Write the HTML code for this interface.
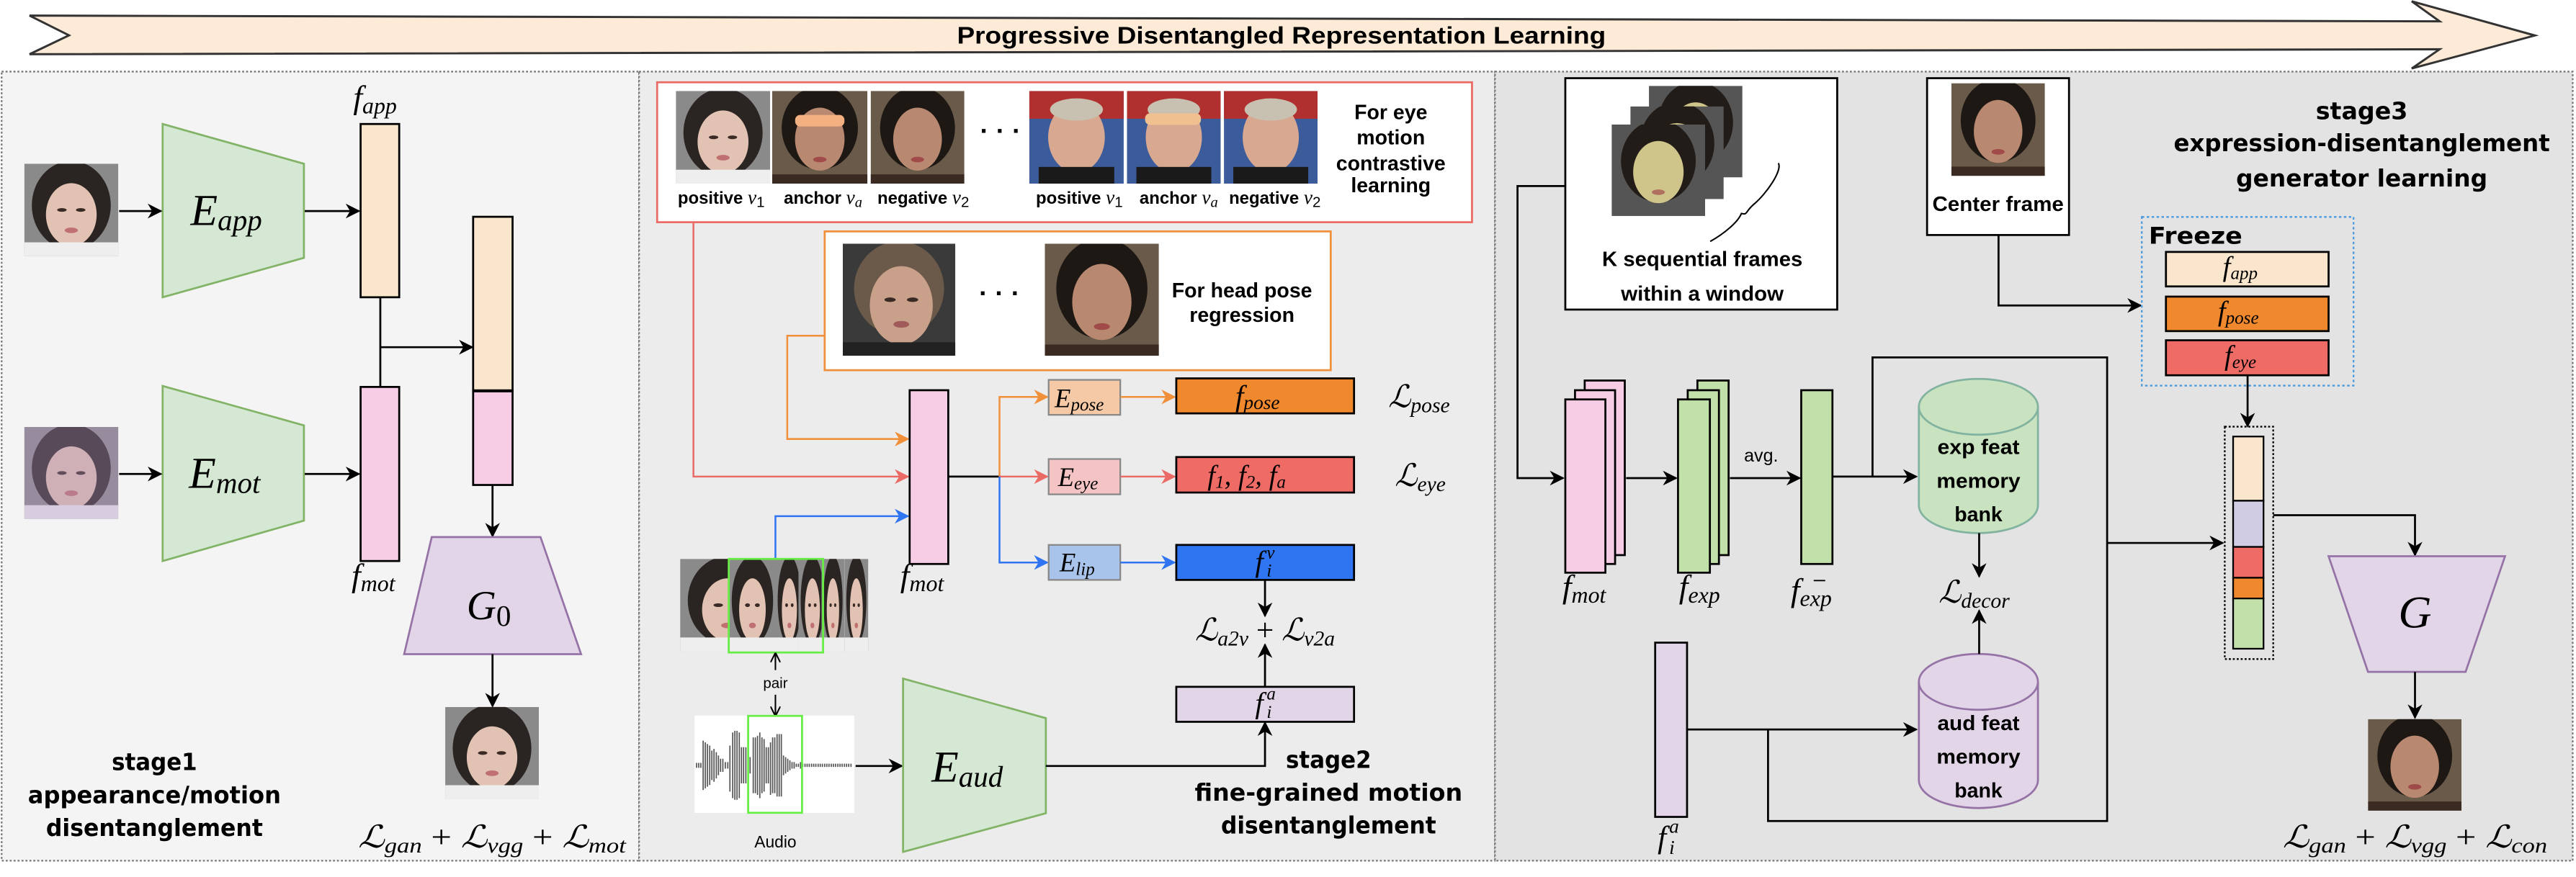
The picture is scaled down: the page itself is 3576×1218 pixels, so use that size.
<!DOCTYPE html>
<html><head><meta charset="utf-8"><style>
html,body{margin:0;padding:0;background:#fff;}
svg{display:block;}
.m{font-family:"Liberation Serif",serif;font-style:italic;fill:#000;}
.b{font-family:"Liberation Sans",sans-serif;font-weight:bold;fill:#000;}
.s{font-family:"DejaVu Sans",sans-serif;font-weight:bold;fill:#000;}
</style></head><body>
<svg width="3576" height="1218" viewBox="0 0 1568 534" preserveAspectRatio="none" xmlns="http://www.w3.org/2000/svg">
<defs>
<marker id="ak" viewBox="0 0 10 10" refX="9" refY="5" markerWidth="9" markerHeight="9" markerUnits="userSpaceOnUse" orient="auto"><path d="M0,0 L10,5 L0,10 L3,5 z" fill="#000"/></marker>
<marker id="ao" viewBox="0 0 10 10" refX="9" refY="5" markerWidth="9" markerHeight="9" markerUnits="userSpaceOnUse" orient="auto"><path d="M0,0 L10,5 L0,10 L3,5 z" fill="#f0903a"/></marker>
<marker id="ar" viewBox="0 0 10 10" refX="9" refY="5" markerWidth="9" markerHeight="9" markerUnits="userSpaceOnUse" orient="auto"><path d="M0,0 L10,5 L0,10 L3,5 z" fill="#ea6b66"/></marker>
<marker id="ab" viewBox="0 0 10 10" refX="9" refY="5" markerWidth="9" markerHeight="9" markerUnits="userSpaceOnUse" orient="auto"><path d="M0,0 L10,5 L0,10 L3,5 z" fill="#2f74f0"/></marker>
<marker id="as" viewBox="0 0 10 10" refX="9" refY="5" markerWidth="6" markerHeight="6" markerUnits="userSpaceOnUse" orient="auto"><path d="M0,0 L10,5 L0,10 M10,5 L0,5" fill="none" stroke="#000" stroke-width="1.5"/></marker>
<symbol id="face" viewBox="0 0 100 100" preserveAspectRatio="none">
<rect width="100" height="100" fill="#8a8a8a"/>
<ellipse cx="50" cy="45" rx="42" ry="48" fill="#2a2522"/>
<ellipse cx="50" cy="55" rx="27" ry="34" fill="#e2c2b2"/>
<rect x="0" y="85" width="100" height="15" fill="#eeeeee"/>
<ellipse cx="40" cy="50" rx="5" ry="2" fill="#3a2a25"/><ellipse cx="60" cy="50" rx="5" ry="2" fill="#3a2a25"/>
<ellipse cx="50" cy="72" rx="7" ry="3" fill="#c07070"/>
</symbol>
<symbol id="face2" viewBox="0 0 100 100" preserveAspectRatio="none">
<rect width="100" height="100" fill="#3a3a3a"/>
<ellipse cx="50" cy="40" rx="40" ry="42" fill="#6b5a4a"/>
<ellipse cx="52" cy="55" rx="28" ry="35" fill="#c9a08a"/>
<rect x="0" y="88" width="100" height="12" fill="#222"/>
<ellipse cx="42" cy="50" rx="5" ry="2" fill="#3a2a25"/><ellipse cx="62" cy="50" rx="5" ry="2" fill="#3a2a25"/>
<ellipse cx="52" cy="72" rx="7" ry="3" fill="#a05a5a"/>
</symbol>
<symbol id="face3" viewBox="0 0 100 100" preserveAspectRatio="none">
<rect width="100" height="100" fill="#3b5b9a"/>
<rect x="0" y="0" width="100" height="30" fill="#b03030"/>
<ellipse cx="50" cy="50" rx="30" ry="38" fill="#d8a890"/>
<rect x="10" y="82" width="80" height="18" fill="#1a1a1a"/>
<ellipse cx="50" cy="20" rx="28" ry="12" fill="#c8c0b0"/>
</symbol>
<symbol id="face4" viewBox="0 0 100 100" preserveAspectRatio="none">
<rect width="100" height="100" fill="#6a5a4a"/>
<ellipse cx="50" cy="40" rx="40" ry="45" fill="#1e1814"/>
<ellipse cx="50" cy="52" rx="26" ry="34" fill="#b88870"/>
<rect x="0" y="90" width="100" height="10" fill="#3a2a22"/>
<ellipse cx="50" cy="74" rx="7" ry="3" fill="#a04a4a"/>
</symbol>
<symbol id="face5" viewBox="0 0 100 100" preserveAspectRatio="none">
<rect width="100" height="100" fill="#555"/>
<ellipse cx="50" cy="40" rx="40" ry="45" fill="#221c18"/>
<ellipse cx="50" cy="52" rx="27" ry="34" fill="#cfc48a"/>
<ellipse cx="50" cy="74" rx="7" ry="3" fill="#b07060"/>
</symbol>
</defs>

<!-- banner -->
<polygon points="18,9.5 1485,13 1468,0.8 1543,21.6 1468,41.7 1485,30 18,33 42,21.5" fill="#fdebd7" stroke="#333" stroke-width="1.3"/>
<text x="780" y="26.5" class="b" font-size="14.5" text-anchor="middle" textLength="395" lengthAdjust="spacingAndGlyphs">Progressive Disentangled Representation Learning</text>

<!-- panels -->
<rect x="1" y="43.6" width="388" height="480.5" fill="#f4f4f4" stroke="#777" stroke-width="1" stroke-dasharray="1.2,1.2"/>
<rect x="389" y="43.6" width="521" height="480.5" fill="#ececec" stroke="#777" stroke-width="1" stroke-dasharray="1.2,1.2"/>
<rect x="910" y="43.6" width="656" height="480.5" fill="#e3e3e3" stroke="#777" stroke-width="1" stroke-dasharray="1.2,1.2"/>

<!-- ===== Panel 1 ===== -->
<use href="#face" x="14.8" y="99.7" width="57.2" height="56.3"/>
<use href="#face" x="14.8" y="260" width="57.2" height="56"/>
<rect x="14.8" y="260" width="57.2" height="56" fill="#b090c0" opacity="0.35"/>
<polygon points="99,75.5 185,99.7 185,157 99,181" fill="#d5e8d4" stroke="#82b366" stroke-width="1.2"/>
<polygon points="99,235 185,259 185,317 99,341.6" fill="#d5e8d4" stroke="#82b366" stroke-width="1.2"/>
<text x="116" y="137" class="m" font-size="27">E<tspan font-size="18" dy="3">app</tspan></text>
<text x="115" y="297" class="m" font-size="27">E<tspan font-size="18" dy="3">mot</tspan></text>
<line x1="72.5" y1="128.5" x2="98" y2="128.5" stroke="#000" stroke-width="1.2" marker-end="url(#ak)"/>
<line x1="72.5" y1="288.6" x2="98" y2="288.6" stroke="#000" stroke-width="1.2" marker-end="url(#ak)"/>
<line x1="185.5" y1="128.5" x2="218.5" y2="128.5" stroke="#000" stroke-width="1.2" marker-end="url(#ak)"/>
<line x1="185.5" y1="288.6" x2="218.5" y2="288.6" stroke="#000" stroke-width="1.2" marker-end="url(#ak)"/>
<rect x="219.5" y="75.5" width="23.5" height="105.5" fill="#fae6cc" stroke="#000" stroke-width="1.2"/>
<rect x="219.5" y="235.6" width="23.5" height="106" fill="#f6cde5" stroke="#000" stroke-width="1.2"/>
<text x="215" y="66" class="m" font-size="20">f<tspan font-size="14" dy="3">app</tspan></text>
<text x="214" y="357" class="m" font-size="20">f<tspan font-size="14" dy="3">mot</tspan></text>
<line x1="231.5" y1="181" x2="231.5" y2="235.6" stroke="#000" stroke-width="1.2"/>
<line x1="231.5" y1="211.4" x2="287.5" y2="211.4" stroke="#000" stroke-width="1.2" marker-end="url(#ak)"/>
<rect x="288" y="132" width="24" height="106" fill="#fae6cc" stroke="#000" stroke-width="1.2"/>
<rect x="288" y="238" width="24" height="57.3" fill="#f6cde5" stroke="#000" stroke-width="1.2"/>
<line x1="288" y1="238" x2="312" y2="238" stroke="#000" stroke-width="1.8"/>
<line x1="299.8" y1="295.3" x2="299.8" y2="326.5" stroke="#000" stroke-width="1.2" marker-end="url(#ak)"/>
<polygon points="262.8,327 329,327 353.7,398.3 246,398.3" fill="#e1d5e7" stroke="#9673a6" stroke-width="1.2"/>
<text x="284" y="377" class="m" font-size="25">G<tspan font-size="18" font-style="normal" dy="4">0</tspan></text>
<line x1="299.8" y1="398.3" x2="299.8" y2="430" stroke="#000" stroke-width="1.2" marker-end="url(#ak)"/>
<use href="#face" x="271" y="430.5" width="57" height="56"/>
<text x="94" y="469" class="s" font-size="14.5" text-anchor="middle" textLength="52" lengthAdjust="spacingAndGlyphs">stage1</text>
<text x="94" y="489" class="s" font-size="14.5" text-anchor="middle" textLength="154" lengthAdjust="spacingAndGlyphs">appearance/motion</text>
<text x="94" y="509" class="s" font-size="14.5" text-anchor="middle" textLength="132" lengthAdjust="spacingAndGlyphs">disentanglement</text>
<text x="218" y="516" class="m" font-size="19" textLength="163" lengthAdjust="spacingAndGlyphs">ℒ<tspan font-size="13" dy="3">gan</tspan><tspan dy="-3" font-style="normal"> + </tspan>ℒ<tspan font-size="13" dy="3">vgg</tspan><tspan dy="-3" font-style="normal"> + </tspan>ℒ<tspan font-size="13" dy="3">mot</tspan></text>

<!-- ===== Panel 2 ===== -->
<rect x="400" y="50.1" width="496" height="85.2" fill="#fff" stroke="#ea6b66" stroke-width="1.2"/>
<use href="#face" x="411.4" y="55.4" width="57.4" height="56.4"/>
<use href="#face4" x="470" y="55.4" width="58" height="56.4"/>
<rect x="484" y="70" width="30" height="7" rx="3" fill="#f4b080"/>
<use href="#face4" x="530" y="55.4" width="57" height="56.4"/>
<text x="609" y="85" font-family="Liberation Sans" font-size="16" font-weight="bold" text-anchor="middle">· · ·</text>
<use href="#face3" x="626.5" y="55.4" width="57.5" height="56.4"/>
<use href="#face3" x="686" y="55.4" width="57" height="56.4"/>
<rect x="697" y="69" width="34" height="7" rx="3" fill="#f0c090"/>
<use href="#face3" x="745" y="55.4" width="57" height="56.4"/>
<g class="b" font-size="10.5" text-anchor="middle">
<text x="439" y="124">positive <tspan class="m" font-weight="normal" font-size="12">v</tspan><tspan font-weight="normal" font-size="9" dy="2">1</tspan></text>
<text x="501" y="124">anchor <tspan class="m" font-weight="normal" font-size="12">v</tspan><tspan class="m" font-weight="normal" font-size="9" dy="2">a</tspan></text>
<text x="562" y="124">negative <tspan class="m" font-weight="normal" font-size="12">v</tspan><tspan font-weight="normal" font-size="9" dy="2">2</tspan></text>
<text x="657" y="124">positive <tspan class="m" font-weight="normal" font-size="12">v</tspan><tspan font-weight="normal" font-size="9" dy="2">1</tspan></text>
<text x="717.5" y="124">anchor <tspan class="m" font-weight="normal" font-size="12">v</tspan><tspan class="m" font-weight="normal" font-size="9" dy="2">a</tspan></text>
<text x="776" y="124">negative <tspan class="m" font-weight="normal" font-size="12">v</tspan><tspan font-weight="normal" font-size="9" dy="2">2</tspan></text>
</g>
<g class="b" font-size="12.5" text-anchor="middle">
<text x="846.6" y="72.5">For eye</text>
<text x="846.6" y="88">motion</text>
<text x="846.6" y="103.7">contrastive</text>
<text x="846.6" y="117.1">learning</text>
</g>
<rect x="502" y="140.9" width="308" height="84.5" fill="#fff" stroke="#f0903a" stroke-width="1.2"/>
<use href="#face2" x="513" y="148.4" width="68.5" height="68.2"/>
<use href="#face4" x="636" y="148.4" width="69.4" height="68.2"/>
<text x="608.4" y="184" font-family="Liberation Sans" font-size="16" font-weight="bold" text-anchor="middle">· · ·</text>
<text x="756" y="181" class="b" font-size="12.5" text-anchor="middle">For head pose</text>
<text x="756" y="196" class="b" font-size="12.5" text-anchor="middle">regression</text>
<polyline points="502,204.4 479.2,204.4 479.2,267.3 552.7,267.3" fill="none" stroke="#f0903a" stroke-width="1.1" marker-end="url(#ao)"/>
<polyline points="422.1,135.3 422.1,290.2 552.7,290.2" fill="none" stroke="#ea6b66" stroke-width="1.1" marker-end="url(#ar)"/>
<polyline points="472,340.3 472,314.3 552.7,314.3" fill="none" stroke="#2f74f0" stroke-width="1.1" marker-end="url(#ab)"/>
<rect x="553.7" y="237.6" width="23.5" height="105.8" fill="#f6cde5" stroke="#000" stroke-width="1.2"/>
<text x="548" y="357" class="m" font-size="20">f<tspan font-size="14" dy="3">mot</tspan></text>
<line x1="577.2" y1="290.2" x2="608.4" y2="290.2" stroke="#000" stroke-width="1.2"/>
<polyline points="608.4,290.2 608.4,241.7 637.5,241.7" fill="none" stroke="#f0903a" stroke-width="1.1" marker-end="url(#ao)"/>
<line x1="608.4" y1="290.2" x2="637.5" y2="290.2" stroke="#ea6b66" stroke-width="1.1" marker-end="url(#ar)"/>
<polyline points="608.4,290.2 608.4,342.5 637.5,342.5" fill="none" stroke="#2f74f0" stroke-width="1.1" marker-end="url(#ab)"/>
<rect x="638.3" y="231.3" width="43.6" height="21.3" fill="#f5c9a6" stroke="#888" stroke-width="1"/>
<rect x="638.3" y="279.5" width="43.6" height="21.5" fill="#f4c4c4" stroke="#888" stroke-width="1"/>
<rect x="638.3" y="331.8" width="43.6" height="21.3" fill="#a9c4eb" stroke="#888" stroke-width="1"/>
<text x="642" y="248" class="m" font-size="16">E<tspan font-size="11" dy="2">pose</tspan></text>
<text x="644" y="296" class="m" font-size="16">E<tspan font-size="11" dy="2">eye</tspan></text>
<text x="645" y="348" class="m" font-size="16">E<tspan font-size="11" dy="2">lip</tspan></text>
<line x1="682" y1="241.7" x2="715" y2="241.7" stroke="#f0903a" stroke-width="1.1" marker-end="url(#ao)"/>
<line x1="682" y1="290.2" x2="715" y2="290.2" stroke="#ea6b66" stroke-width="1.1" marker-end="url(#ar)"/>
<line x1="682" y1="342.5" x2="715" y2="342.5" stroke="#2f74f0" stroke-width="1.1" marker-end="url(#ab)"/>
<rect x="716" y="230.4" width="108.2" height="21.3" fill="#f0892e" stroke="#000" stroke-width="1.2"/>
<rect x="716" y="278.3" width="108.2" height="21.6" fill="#ee6b66" stroke="#000" stroke-width="1.2"/>
<rect x="716" y="331.8" width="108.2" height="21.3" fill="#2f74f0" stroke="#000" stroke-width="1.2"/>
<rect x="716" y="418.2" width="108.2" height="21.3" fill="#e1d5e7" stroke="#000" stroke-width="1.2"/>
<text x="752" y="247" class="m" font-size="18">f<tspan font-size="12" dy="2">pose</tspan></text>
<text x="735" y="295" class="m" font-size="17">f<tspan font-size="11" dy="2">1</tspan><tspan dy="-2">, f</tspan><tspan font-size="11" dy="2">2</tspan><tspan dy="-2">, f</tspan><tspan font-size="11" dy="2">a</tspan></text>
<text x="764" y="348" class="m" font-size="18">f</text><text x="771" y="351" class="m" font-size="11">i</text><text x="771" y="340" class="m" font-size="11">v</text>
<text x="764" y="434" class="m" font-size="18">f</text><text x="771" y="437" class="m" font-size="11">i</text><text x="771" y="426" class="m" font-size="11">a</text>
<text x="845" y="248" class="m" font-size="19">ℒ<tspan font-size="13" dy="3">pose</tspan></text>
<text x="849" y="296" class="m" font-size="19">ℒ<tspan font-size="13" dy="3">eye</tspan></text>
<line x1="770" y1="353.1" x2="770" y2="375" stroke="#000" stroke-width="1.2" marker-end="url(#ak)"/>
<line x1="770" y1="418.2" x2="770" y2="392.5" stroke="#000" stroke-width="1.2" marker-end="url(#ak)"/>
<text x="770" y="390" class="m" font-size="19" text-anchor="middle">ℒ<tspan font-size="13" dy="3">a2v</tspan><tspan dy="-3" font-style="normal"> + </tspan>ℒ<tspan font-size="13" dy="3">v2a</tspan></text>
<!-- frames -->
<use href="#face" x="414" y="340.3" width="58" height="56.3"/>
<use href="#face" x="443" y="340.3" width="30" height="56.3"/>
<use href="#face" x="472" y="340.3" width="17" height="56.3"/>
<use href="#face" x="486" y="340.3" width="17" height="56.3"/>
<use href="#face" x="500" y="340.3" width="14" height="56.3"/>
<use href="#face" x="514" y="340.3" width="14.5" height="56.3"/>
<rect x="443.6" y="340.3" width="57.4" height="57" fill="none" stroke="#66ee44" stroke-width="1.2"/>
<line x1="472" y1="408" x2="472" y2="398" stroke="#000" stroke-width="0.9" marker-end="url(#as)"/>
<text x="472" y="419" font-family="Liberation Sans" font-size="9" text-anchor="middle">pair</text>
<line x1="472" y1="423" x2="472" y2="435.5" stroke="#000" stroke-width="0.9" marker-end="url(#as)"/>
<rect x="422.8" y="435.7" width="97.2" height="59.3" fill="#fff"/>
<path stroke="#555" stroke-width="0.75" d="
M424,464.5V467.5 M425.3,464.5V467.5 M426.6,464.5V467.5
M428,451V481 M429.3,452V480 M430.6,453V479 M432,454V478 M433.3,457V475 M434.6,456V476 M436,458V474 M437.3,460V472 M438.6,462V470 M440,462V470
M441.5,464V468 M443,464V468 M444.3,454V482
M446,446V486 M447.3,445V487 M448.6,445V487 M450,446V486 M451.3,455V477 M452.6,455V477 M454,455V477 M455.3,459V473 M456.6,461V471
M458.5,449V483 M459.8,449V483 M461.1,448V484 M462.5,446V486 M463.8,449V483 M465.1,450V482 M466.4,455V477 M467.7,455V477 M469,452V484
M470.3,449V483 M471.6,449V483 M473,447V485 M474.3,447V485 M475.6,447V485
M476.9,460V472 M478.2,461V471 M479.5,462V470 M480.8,463V469 M482.1,464V468 M483.4,464V468 M484.7,465V467 M486,465V467 M487.3,464V468 M488.6,465V467 M490,465V467 M491.3,465V467 M492.6,465V467 M494,465V467 M495.3,465V467 M496.6,465V467 M498,465V467 M499.3,465V467 M500.6,465V467 M502,465V467 M503.3,465V467 M504.6,465V467 M506,465V467 M507.3,465V467 M508.6,465V467 M510,465V467 M511.3,465V467 M512.6,465V467 M514,465V467 M515.3,465V467 M516.6,465V467 M518,465V467"/>
<rect x="455.4" y="435.9" width="32.8" height="59" fill="none" stroke="#66ee44" stroke-width="1.2"/>
<text x="472" y="516" font-family="Liberation Sans" font-size="10" text-anchor="middle">Audio</text>
<line x1="520.8" y1="466.4" x2="549" y2="466.4" stroke="#000" stroke-width="1.2" marker-end="url(#ak)"/>
<polygon points="549.7,413.2 636.6,437.3 636.6,495.2 549.7,518.7" fill="#d5e8d4" stroke="#82b366" stroke-width="1.2"/>
<text x="567" y="476" class="m" font-size="27">E<tspan font-size="18" dy="3">aud</tspan></text>
<polyline points="636.6,466.4 770,466.4 770,440" fill="none" stroke="#000" stroke-width="1.2" marker-end="url(#ak)"/>
<text x="808.7" y="467.5" class="s" font-size="14.5" text-anchor="middle" textLength="52" lengthAdjust="spacingAndGlyphs">stage2</text>
<text x="808.7" y="487.5" class="s" font-size="14.5" text-anchor="middle" textLength="163" lengthAdjust="spacingAndGlyphs">fine-grained motion</text>
<text x="808.7" y="507.5" class="s" font-size="14.5" text-anchor="middle" textLength="131" lengthAdjust="spacingAndGlyphs">disentanglement</text>

<!-- ===== Panel 3 ===== -->
<rect x="952.8" y="47.6" width="165.5" height="140.9" fill="#fff" stroke="#000" stroke-width="1.2"/>
<use href="#face5" x="1003.7" y="52.3" width="56.9" height="55.7"/>
<use href="#face5" x="992.4" y="64.8" width="56.8" height="56.4"/>
<use href="#face5" x="981" y="75.8" width="56.9" height="55.7"/>
<path d="M1082.5,99.3 C1085,104 1075,118 1068,124 C1062,129 1064,131 1060,130 C1058,135 1050,142 1041,147" fill="none" stroke="#000" stroke-width="0.9"/>
<text x="1036.2" y="162" class="b" font-size="12.5" text-anchor="middle" textLength="122" lengthAdjust="spacingAndGlyphs">K sequential frames</text>
<text x="1036.2" y="183" class="b" font-size="12.5" text-anchor="middle" textLength="99" lengthAdjust="spacingAndGlyphs">within a window</text>
<rect x="1173" y="47.6" width="86.4" height="95.5" fill="#fff" stroke="#000" stroke-width="1.2"/>
<use href="#face4" x="1187.8" y="50.7" width="56.9" height="56.4"/>
<text x="1216.2" y="128.5" class="b" font-size="12.5" text-anchor="middle" textLength="80" lengthAdjust="spacingAndGlyphs">Center frame</text>
<polyline points="1216.5,143.1 1216.5,186 1303,186" fill="none" stroke="#000" stroke-width="1.2" marker-end="url(#ak)"/>
<rect x="1303.7" y="132.1" width="128.9" height="102.7" fill="none" stroke="#4a9ae0" stroke-width="1" stroke-dasharray="1.5,1.5"/>
<text x="1307.9" y="148.5" class="s" font-size="14" textLength="57" lengthAdjust="spacingAndGlyphs">Freeze</text>
<rect x="1318.4" y="153.4" width="99" height="21" fill="#fae6cc" stroke="#000" stroke-width="1.2"/>
<rect x="1318.4" y="180.6" width="99" height="21" fill="#f0892e" stroke="#000" stroke-width="1.2"/>
<rect x="1318.4" y="207.2" width="99" height="21.3" fill="#ee6b66" stroke="#000" stroke-width="1.2"/>
<text x="1353" y="168" class="m" font-size="17">f<tspan font-size="11" dy="2">app</tspan></text>
<text x="1350" y="195" class="m" font-size="17">f<tspan font-size="11" dy="2">pose</tspan></text>
<text x="1354" y="222" class="m" font-size="17">f<tspan font-size="11" dy="2">eye</tspan></text>
<line x1="1368.1" y1="228.5" x2="1368.1" y2="259.5" stroke="#000" stroke-width="1.2" marker-end="url(#ak)"/>
<rect x="1354.2" y="259.8" width="29.5" height="141.5" fill="none" stroke="#000" stroke-width="1" stroke-dasharray="1.2,1.2"/>
<rect x="1359.3" y="265.8" width="18.5" height="39.1" fill="#fae6cc" stroke="#000" stroke-width="1"/>
<rect x="1359.3" y="304.9" width="18.5" height="28.1" fill="#d0cce4" stroke="#000" stroke-width="1"/>
<rect x="1359.3" y="333" width="18.5" height="18.8" fill="#ee6b66" stroke="#000" stroke-width="1"/>
<rect x="1359.3" y="351.8" width="18.5" height="12.6" fill="#f0892e" stroke="#000" stroke-width="1"/>
<rect x="1359.3" y="364.4" width="18.5" height="30.6" fill="#c2e0aa" stroke="#000" stroke-width="1"/>
<polyline points="1383.7,313.7 1470,313.7 1470,338" fill="none" stroke="#000" stroke-width="1.2" marker-end="url(#ak)"/>
<polygon points="1417.4,338.7 1524.8,338.7 1500.8,409.1 1441.4,409.1" fill="#e1d5e7" stroke="#9673a6" stroke-width="1.2"/>
<text x="1470" y="382" class="m" font-size="28" text-anchor="middle">G</text>
<line x1="1470" y1="409.1" x2="1470" y2="437" stroke="#000" stroke-width="1.2" marker-end="url(#ak)"/>
<use href="#face4" x="1441.4" y="437.9" width="56.9" height="55.7"/>
<text x="1470" y="516" class="m" font-size="19" text-anchor="middle" textLength="161" lengthAdjust="spacingAndGlyphs">ℒ<tspan font-size="13" dy="3">gan</tspan><tspan dy="-3" font-style="normal"> + </tspan>ℒ<tspan font-size="13" dy="3">vgg</tspan><tspan dy="-3" font-style="normal"> + </tspan>ℒ<tspan font-size="13" dy="3">con</tspan></text>
<text x="1437.6" y="72.5" class="s" font-size="14.5" text-anchor="middle" textLength="56" lengthAdjust="spacingAndGlyphs">stage3</text>
<text x="1437.6" y="92" class="s" font-size="14.5" text-anchor="middle" textLength="229" lengthAdjust="spacingAndGlyphs">expression-disentanglement</text>
<text x="1437.6" y="113.5" class="s" font-size="14.5" text-anchor="middle" textLength="153" lengthAdjust="spacingAndGlyphs">generator learning</text>
<polyline points="952.8,113.3 923.7,113.3 923.7,291.1 951.5,291.1" fill="none" stroke="#000" stroke-width="1.2" marker-end="url(#ak)"/>
<rect x="964.6" y="231.7" width="24.4" height="106.3" fill="#f6cde5" stroke="#000" stroke-width="1.2"/>
<rect x="958.7" y="237.6" width="24.4" height="105.8" fill="#f6cde5" stroke="#000" stroke-width="1.2"/>
<rect x="952.8" y="243.2" width="24.4" height="105.5" fill="#f6cde5" stroke="#000" stroke-width="1.2"/>
<text x="951" y="364" class="m" font-size="20">f<tspan font-size="14" dy="3">mot</tspan></text>
<line x1="989.8" y1="291.1" x2="1020.3" y2="291.1" stroke="#000" stroke-width="1.2" marker-end="url(#ak)"/>
<rect x="1033.2" y="231.7" width="19" height="106.3" fill="#c2e0aa" stroke="#000" stroke-width="1.2"/>
<rect x="1027.3" y="237.6" width="19" height="105.8" fill="#c2e0aa" stroke="#000" stroke-width="1.2"/>
<rect x="1021.4" y="243.2" width="19.4" height="105.5" fill="#c2e0aa" stroke="#000" stroke-width="1.2"/>
<text x="1022" y="364" class="m" font-size="20">f<tspan font-size="14" dy="3">exp</tspan></text>
<text x="1072" y="281" font-family="Liberation Sans" font-size="11" text-anchor="middle">avg.</text>
<line x1="1053" y1="291.1" x2="1095.5" y2="291.1" stroke="#000" stroke-width="1.2" marker-end="url(#ak)"/>
<rect x="1096.4" y="237.6" width="19" height="105.8" fill="#c2e0aa" stroke="#000" stroke-width="1.2"/>
<text x="1090" y="366" class="m" font-size="20">f<tspan font-size="14" dy="3">exp</tspan></text>
<line x1="1104" y1="353.5" x2="1111" y2="353.5" stroke="#000" stroke-width="0.8"/>
<polyline points="1115.4,290.2 1166.5,290.2" fill="none" stroke="#000" stroke-width="1.2" marker-end="url(#ak)"/>
<polyline points="1139.8,290.2 1139.8,217.6 1282.6,217.6 1282.6,499.9 1076.2,499.9 1076.2,444.2" fill="none" stroke="#000" stroke-width="1.2"/>
<line x1="1282.6" y1="330.6" x2="1353" y2="330.6" stroke="#000" stroke-width="1.2" marker-end="url(#ak)"/>
<rect x="1007.5" y="391.3" width="19.4" height="106.1" fill="#e1d5e7" stroke="#000" stroke-width="1.2"/>
<text x="1009" y="516" class="m" font-size="19">f</text><text x="1016" y="520" class="m" font-size="12">i</text><text x="1016" y="507" class="m" font-size="12">a</text>
<line x1="1026.9" y1="444.2" x2="1166.5" y2="444.2" stroke="#000" stroke-width="1.2" marker-end="url(#ak)"/>
<!-- cylinders -->
<path d="M1168,247.7 V307.6 A36.25,17 0 0 0 1240.5,307.6 V247.7 A36.25,17 0 0 0 1168,247.7 Z" fill="#c9e2bf" stroke="#82b3a0" stroke-width="1.2"/>
<path d="M1168,247.7 A36.25,17 0 0 0 1240.5,247.7" fill="none" stroke="#82b3a0" stroke-width="1.2"/>
<text x="1204.3" y="276.5" class="b" font-size="12.5" text-anchor="middle" textLength="50" lengthAdjust="spacingAndGlyphs">exp feat</text>
<text x="1204.3" y="297" class="b" font-size="12.5" text-anchor="middle" textLength="51" lengthAdjust="spacingAndGlyphs">memory</text>
<text x="1204.3" y="317.5" class="b" font-size="12.5" text-anchor="middle">bank</text>
<path d="M1168,415.2 V475 A36.25,17 0 0 0 1240.5,475 V415.2 A36.25,17 0 0 0 1168,415.2 Z" fill="#e1d5e7" stroke="#9673a6" stroke-width="1.2"/>
<path d="M1168,415.2 A36.25,17 0 0 0 1240.5,415.2" fill="none" stroke="#9673a6" stroke-width="1.2"/>
<text x="1204.3" y="444.5" class="b" font-size="12.5" text-anchor="middle" textLength="50" lengthAdjust="spacingAndGlyphs">aud feat</text>
<text x="1204.3" y="465" class="b" font-size="12.5" text-anchor="middle" textLength="51" lengthAdjust="spacingAndGlyphs">memory</text>
<text x="1204.3" y="485.5" class="b" font-size="12.5" text-anchor="middle">bank</text>
<line x1="1204.7" y1="324.6" x2="1204.7" y2="351" stroke="#000" stroke-width="1.2" marker-end="url(#ak)"/>
<line x1="1204.7" y1="398.2" x2="1204.7" y2="371.8" stroke="#000" stroke-width="1.2" marker-end="url(#ak)"/>
<text x="1180" y="367" class="m" font-size="19">ℒ<tspan font-size="13" dy="3">decor</tspan></text>
</svg>
</body></html>
